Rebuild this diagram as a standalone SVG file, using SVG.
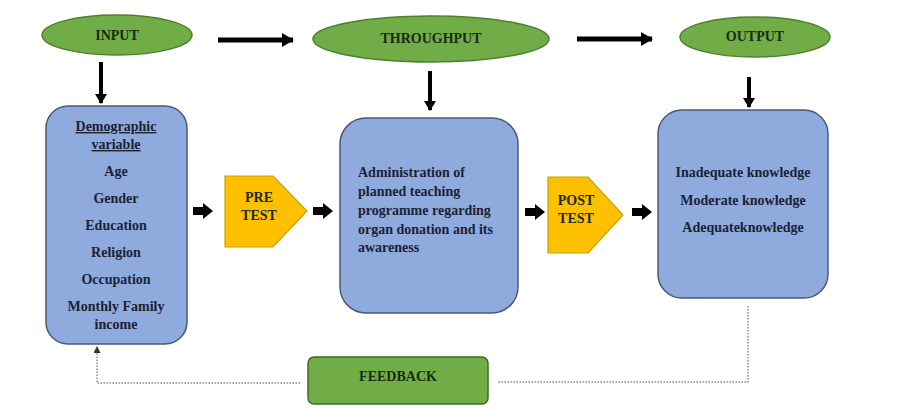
<svg xmlns="http://www.w3.org/2000/svg" width="900" height="413" viewBox="0 0 900 413">
<style>
.ell{fill:#70AD47;stroke:#507E32;stroke-width:1.5}
.box{fill:#8FAADC;stroke:#4A5A78;stroke-width:1.5}
.pent{fill:#FFC000;stroke:#C9A000;stroke-width:1.2}
.fb{fill:#70AD47;stroke:#3F6B27;stroke-width:1.5}
.t{font-family:"Liberation Serif","Times New Roman",serif;font-weight:bold;font-size:14px;fill:#1A2236;text-anchor:middle}
.tg{font-family:"Liberation Serif","Times New Roman",serif;font-weight:bold;font-size:14px;fill:#1A2A12;text-anchor:middle}
.tl{text-anchor:start}
.thick{stroke:#000;stroke-width:5;fill:none}
.down{stroke:#000;stroke-width:4;fill:none}
.dot{stroke:#8A8A8A;stroke-width:1.5;stroke-dasharray:1.5 1.5;fill:none}
</style>
<defs>
<marker id="ah" markerUnits="userSpaceOnUse" markerWidth="12" markerHeight="14" refX="11" refY="7" orient="auto">
<path d="M0,0 L12,7 L0,14 Z" fill="#000"/>
</marker>
<marker id="ahs" markerUnits="userSpaceOnUse" markerWidth="10" markerHeight="12" refX="9" refY="6" orient="auto">
<path d="M0,0 L10,6 L0,12 Z" fill="#000"/>
</marker>
<marker id="ahd" markerUnits="userSpaceOnUse" markerWidth="7" markerHeight="7" refX="6" refY="3.5" orient="auto">
<path d="M0,0 L7,3.5 L0,7 Z" fill="#333"/>
</marker>
<path id="blk" d="M0,-4 L10,-4 L10,-8 L20,0 L10,8 L10,4 L0,4 Z" fill="#000"/>
</defs>

<g id="input">
<ellipse class="ell" cx="117" cy="35" rx="75" ry="20"/>
<text class="tg" x="117" y="40">INPUT</text>
</g>
<g id="throughput">
<ellipse class="ell" cx="431" cy="39" rx="118" ry="23"/>
<text class="tg" x="431" y="43">THROUGHPUT</text>
</g>
<g id="output">
<ellipse class="ell" cx="755" cy="37" rx="75" ry="20"/>
<text class="tg" x="755" y="41">OUTPUT</text>
</g>

<g id="demographic">
<rect class="box" x="46" y="106" width="141" height="238" rx="22"/>
<text class="t" x="116" y="131" text-decoration="underline">Demographic</text>
<text class="t" x="116" y="149" text-decoration="underline">variable</text>
<text class="t" x="116" y="176">Age</text>
<text class="t" x="116" y="203">Gender</text>
<text class="t" x="116" y="230">Education</text>
<text class="t" x="116" y="257">Religion</text>
<text class="t" x="116" y="284">Occupation</text>
<text class="t" x="116" y="311">Monthly Family</text>
<text class="t" x="116" y="329">income</text>
</g>

<g id="pretest">
<polygon class="pent" points="225,176 273,176 307,211 273,247 225,247"/>
<text class="tg" x="259" y="202">PRE</text>
<text class="tg" x="259" y="220">TEST</text>
</g>

<g id="administration">
<rect class="box" x="340" y="118" width="178" height="195" rx="26"/>
<text class="t tl" x="358" y="177">Administration of</text>
<text class="t tl" x="358" y="196">planned teaching</text>
<text class="t tl" x="358" y="215">programme regarding</text>
<text class="t tl" x="358" y="234">organ donation and its</text>
<text class="t tl" x="358" y="252">awareness</text>
</g>

<g id="posttest">
<polygon class="pent" points="548,177 588,177 623,215 588,253 548,253"/>
<text class="tg" x="576" y="205">POST</text>
<text class="tg" x="576" y="223">TEST</text>
</g>

<g id="knowledge">
<rect class="box" x="658" y="110" width="170" height="188" rx="24"/>
<text class="t" x="743" y="177">Inadequate knowledge</text>
<text class="t" x="743" y="205">Moderate knowledge</text>
<text class="t" x="743" y="232">Adequateknowledge</text>
</g>

<g id="feedback">
<rect class="fb" x="308" y="357" width="180" height="47" rx="6"/>
<text class="tg" x="398" y="381">FEEDBACK</text>
</g>

<g id="connectors">
<line class="thick" x1="218" y1="40" x2="293" y2="40" marker-end="url(#ah)"/>
<line class="thick" x1="577" y1="39" x2="652" y2="39" marker-end="url(#ah)"/>
<line class="down" x1="101" y1="62" x2="101" y2="103" marker-end="url(#ahs)"/>
<line class="down" x1="430" y1="71" x2="430" y2="110" marker-end="url(#ahs)"/>
<line class="down" x1="749" y1="77" x2="749" y2="107" marker-end="url(#ahs)"/>
<use href="#blk" x="193" y="211"/>
<use href="#blk" x="313" y="211"/>
<use href="#blk" x="525" y="212"/>
<use href="#blk" x="632" y="212"/>
<polyline class="dot" points="748,306 748,382 497,382"/>
<polyline class="dot" points="300,383 97,383 97,347" marker-end="url(#ahd)"/>
</g>
</svg>
